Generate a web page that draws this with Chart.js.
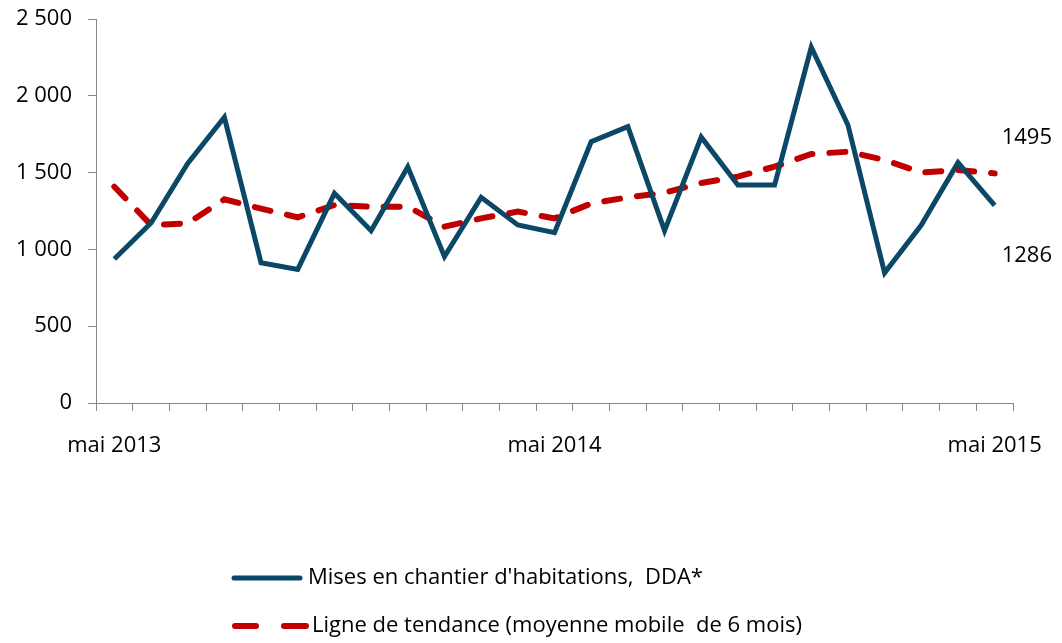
<!DOCTYPE html>
<html>
<head>
<meta charset="utf-8">
<script src="https://cdn.jsdelivr.net/npm/chart.js@4"></script>
<style>
  html, body { margin: 0; padding: 0; background: #fff; }
</style>
</head>
<body>
<canvas id="myChart" width="1062" height="643"></canvas>
<script>
var months = [
    'mai 2013', 'juin 2013', 'juil. 2013', 'août 2013', 'sept. 2013', 'oct. 2013', 'nov. 2013', 'déc. 2013',
    'janv. 2014', 'févr. 2014', 'mars 2014', 'avr. 2014', 'mai 2014', 'juin 2014', 'juil. 2014', 'août 2014',
    'sept. 2014', 'oct. 2014', 'nov. 2014', 'déc. 2014', 'janv. 2015', 'févr. 2015', 'mars 2015', 'avr. 2015', 'mai 2015'
];
var shownTicks = ['mai 2013', 'mai 2014', 'mai 2015'];
var mises = [937, 1172, 1560, 1860, 913, 870, 1365, 1122, 1537, 953, 1339, 1159, 1109,
             1701, 1799, 1122, 1731, 1419, 1419, 2316, 1810, 848, 1159, 1565, 1286];
var tendance = [1408, 1159, 1170, 1326, 1265, 1209, 1289, 1278, 1278, 1148, 1202, 1246, 1202,
                1299, 1339, 1369, 1432, 1474, 1539, 1621, 1636, 1582, 1500, 1517, 1495];
var labelMises = "Mises en chantier d'habitations,  DDA*";
var labelTendance = 'Ligne de tendance (moyenne mobile  de 6 mois)';

var blue = '#0b4767';
var red = '#c00000';
var grey = '#868686';
var fontFamily = "'Open Sans', 'Noto Sans', sans-serif";

function frNumber(v) {
    return String(v).replace(/\B(?=(\d{3})+(?!\d))/g, ' ');
}

// end-of-series values and the legend, drawn straight on the canvas
var extras = {
    id: 'extras',
    afterDatasetsDraw: function (chart) {
        var ctx = chart.ctx;
        var xs = chart.scales.x;
        var ys = chart.scales.y;
        var last = months.length - 1;
        var px = xs.getPixelForValue(last) + 7;

        ctx.save();
        ctx.fillStyle = '#000';
        ctx.font = '22px ' + fontFamily;
        ctx.textBaseline = 'middle';
        ctx.textAlign = 'left';
        ctx.fillText(String(tendance[last]), px, ys.getPixelForValue(tendance[last]) - 36);
        ctx.fillText(String(mises[last]), px, ys.getPixelForValue(mises[last]) + 50);

        // legend
        ctx.lineCap = 'round';
        ctx.lineWidth = 5;
        ctx.strokeStyle = blue;
        ctx.beginPath();
        ctx.moveTo(234, 578);
        ctx.lineTo(300, 578);
        ctx.stroke();

        ctx.strokeStyle = red;
        ctx.lineWidth = 6;
        ctx.beginPath();
        ctx.moveTo(235, 626);
        ctx.lineTo(256, 626);
        ctx.moveTo(284, 626);
        ctx.lineTo(306, 626);
        ctx.stroke();

        ctx.font = '22px ' + fontFamily;
        ctx.fillText(labelMises, 308, 578);
        ctx.fillText(labelTendance, 312, 626);
        ctx.restore();
    }
};

var ctx = document.getElementById('myChart').getContext('2d');
new Chart(ctx, {
    type: 'line',
    data: {
        labels: months,
        datasets: [{
            label: labelMises,
            data: mises,
            borderColor: blue,
            borderWidth: 5,
            borderJoinStyle: 'miter',
            pointRadius: 0,
            tension: 0,
            fill: false
        }, {
            label: labelTendance,
            data: tendance,
            borderColor: red,
            borderWidth: 6,
            borderDash: [16, 17],
            borderCapStyle: 'round',
            pointRadius: 0,
            tension: 0,
            fill: false
        }]
    },
    options: {
        responsive: false,
        animation: false,
        devicePixelRatio: 1,
        layout: {
            padding: { top: 19, right: 49, left: 0, bottom: 0 }
        },
        plugins: {
            legend: { display: false },
            tooltip: { enabled: false }
        },
        scales: {
            x: {
                type: 'category',
                offset: true,
                afterFit: function (s) {
                    s.height = 240;
                    s.paddingLeft = 0;
                    s.paddingRight = 0;
                },
                grid: {
                    offset: true,
                    drawOnChartArea: false,
                    drawTicks: true,
                    tickLength: 8,
                    color: grey
                },
                border: { color: grey, width: 1 },
                ticks: {
                    autoSkip: false,
                    maxRotation: 0,
                    padding: 22,
                    color: '#000',
                    font: { family: fontFamily, size: 22 },
                    callback: function (value) {
                        var lab = this.getLabelForValue(value);
                        return shownTicks.indexOf(lab) >= 0 ? lab : '';
                    }
                }
            },
            y: {
                min: 0,
                max: 2500,
                afterFit: function (s) {
                    s.width = 96;
                    s.paddingTop = 0;
                    s.paddingBottom = 0;
                },
                grid: {
                    drawOnChartArea: false,
                    drawTicks: true,
                    tickLength: 8,
                    color: grey
                },
                border: { color: grey, width: 1 },
                ticks: {
                    stepSize: 500,
                    padding: 16,
                    color: '#000',
                    font: { family: fontFamily, size: 22 },
                    callback: function (v) { return frNumber(v); }
                }
            }
        }
    },
    plugins: [extras]
});
</script>
</body>
</html>
